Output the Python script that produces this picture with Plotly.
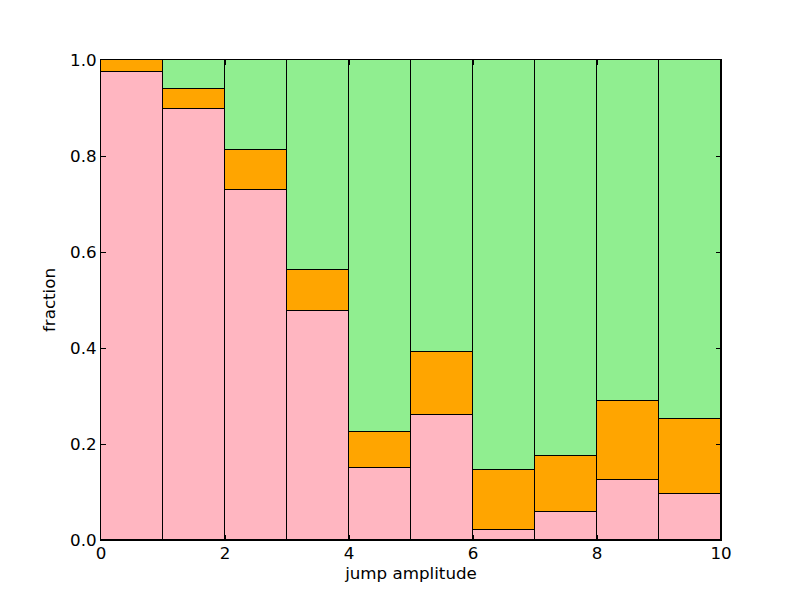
import plotly.graph_objects as go

bin_left = [0, 1, 2, 3, 4, 5, 6, 7, 8, 9]
pink_frac = [0.976, 0.898, 0.729, 0.478, 0.149, 0.260, 0.020, 0.058, 0.124, 0.096]
orange_top = [1.0, 0.939, 0.8125, 0.563, 0.226, 0.392, 0.145, 0.176, 0.290, 0.253]
orange_frac = [o - p for o, p in zip(orange_top, pink_frac)]
green_frac = [1.0 - o for o in orange_top]

x_centers = [b + 0.5 for b in bin_left]
line = dict(color="black", width=1)
FONT = "DejaVu Sans"
FS = 16.7

fig = go.Figure()
fig.add_bar(x=x_centers, y=pink_frac, width=1, marker=dict(color="#FFB6C1", line=line), name="pink")
fig.add_bar(x=x_centers, y=orange_frac, width=1, marker=dict(color="#FFA500", line=line), name="orange")
fig.add_bar(x=x_centers, y=green_frac, width=1, marker=dict(color="#90EE90", line=line), name="green")

axis_common = dict(
    showgrid=False, zeroline=False, showline=True, linecolor="black", linewidth=1,
    mirror="ticks", ticks="inside", ticklen=5, tickcolor="black", tickwidth=1,
    tickfont=dict(family=FONT, size=FS, color="black"),
)

fig.update_layout(
    barmode="stack", bargap=0, showlegend=False, hovermode=False,
    width=800, height=600,
    margin=dict(l=93, r=87, t=52, b=68),
    paper_bgcolor="white", plot_bgcolor="white",
    font=dict(family=FONT, size=FS, color="black"),
    xaxis=dict(range=[0, 10], tickvals=[0, 2, 4, 6, 8, 10], ticktext=["0", "2", "4", "6", "8", "10"],
               ticklabelstandoff=-2,
               title=dict(text="jump amplitude", standoff=2, font=dict(family=FONT, size=FS)), **axis_common),
    yaxis=dict(range=[0, 1], tickvals=[0, 0.2, 0.4, 0.6, 0.8, 1.0],
               ticktext=["0.0", "0.2", "0.4", "0.6", "0.8", "1.0"],
               title=dict(text="fraction", standoff=10, font=dict(family=FONT, size=FS)), **axis_common),
)

fig.write_html("out.html")
